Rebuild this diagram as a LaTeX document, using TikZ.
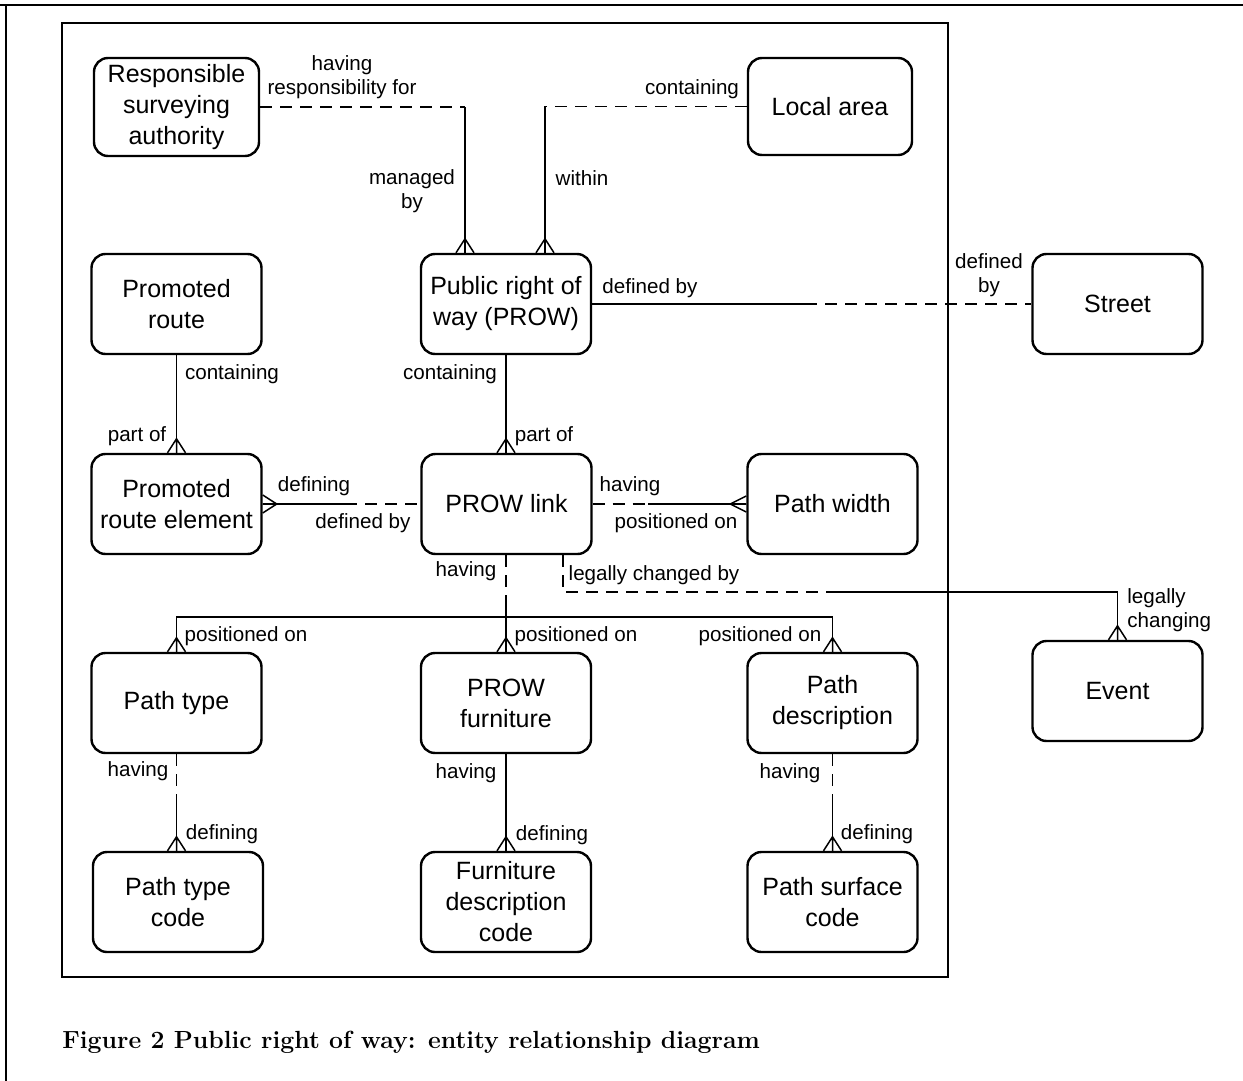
\documentclass[tikz,border=0pt]{standalone}
\usepackage{fontspec}
\newfontfamily\erfont{Liberation Sans}
\tikzset{
 ent/.style={draw, line width=1.2pt, rounded corners=7pt, minimum width=85pt, minimum height=50pt, inner sep=0pt, align=center, font=\erfont\fontsize{12.5}{15.5}\selectfont},
 lbl/.style={inner sep=0pt, align=center, font=\erfont\fontsize{10.3}{12}\selectfont},
 rel/.style={line width=0.75pt},
 opt/.style={rel, dash pattern=on 6pt off 4pt},
 crowN/.pic={\draw[rel] (-9,0) -- (0,-14) -- (9,0) (0,0) -- (0,-14);},
 crowW/.pic={\draw[rel] (0,-8) -- (-16,0) -- (0,8) (0,0) -- (-16,0);},
 crowE/.pic={\draw[rel] (0,-9) -- (14,0) -- (0,9) (0,0) -- (14,0);}
}
\begin{document}
\begin{tikzpicture}[x=0.5pt,y=-0.5pt]
\useasboundingbox (0,0) rectangle (1243,1081);
% frames
\draw[line width=0.7pt] (0,5) -- (1243,5);
\draw[line width=0.7pt] (6,5) -- (6,1081);
\draw[line width=1pt] (62,23) rectangle (948,977);

% entities
\node[ent, minimum width=82.5pt, minimum height=49pt] (rsa) at (176.5,107) {Responsible\\surveying\\authority};
\node[ent, minimum width=82pt, minimum height=48.5pt] (la) at (830,106.5) {Local area};
\node[ent] (pr) at (176.5,304) {Promoted\\route};
\node[ent] (prow) at (506,304) {Public right of\\way (PROW)};
\node[ent] (street) at (1117.5,304) {Street};
\node[ent] (pre) at (176.5,504) {Promoted\\route element};
\node[ent] (link) at (506.5,504) {PROW link};
\node[ent] (pw) at (832.5,504) {Path width};
\node[ent] (pt) at (176.5,703) {Path type};
\node[ent] (pf) at (506,703) {PROW\\furniture};
\node[ent] (pd) at (832.5,703) {Path\\description};
\node[ent] (ev) at (1117.5,691) {Event};
\node[ent] (ptc) at (178,902) {Path type\\code};
\node[ent] (fdc) at (506,902) {Furniture\\description\\code};
\node[ent] (psc) at (832.5,902) {Path surface\\code};

% bend coordinates
\coordinate (k1) at (465,0);
\coordinate (k2) at (545,0);
\coordinate (k3) at (805,304);
\coordinate (k4) at (345,504);
\coordinate (k5) at (648,504);
\coordinate (k6) at (506,602);
\coordinate (k7) at (0,617);
\coordinate (k8) at (563,592);
\coordinate (k9) at (836,592);
\coordinate (k10) at (0,800);

% RSA - PROW
\draw[opt] (rsa.east) -- (rsa.east -| k1);
\draw[rel] (rsa.east -| k1) -- (k1 |- prow.north);
\pic at (k1 |- prow.north) {crowN};
% Local area - PROW
\draw[opt] (la.west) -- (la.west -| k2);
\draw[rel] (la.west -| k2) -- (k2 |- prow.north);
\pic at (k2 |- prow.north) {crowN};
% PROW - Street
\draw[rel] (prow.east) -- (k3);
\draw[opt] (k3) -- (street.west);
% Promoted route - element
\draw[rel] (pr.south) -- (pre.north);
\pic at (pre.north) {crowN};
% PROW - link
\draw[rel] (prow.south) -- (prow.south |- link.north);
\pic at (prow.south |- link.north) {crowN};
% element - link
\draw[rel] (pre.east) -- (k4);
\draw[opt] (k4) -- (link.west);
\pic at (pre.east) {crowE};
% link - width
\draw[opt] (link.east) -- (k5);
\draw[rel] (k5) -- (pw.west);
\pic at (pw.west) {crowW};
% link - bus
\draw[opt] (k6 |- link.south) -- (k6);
\draw[rel] (k6) -- (pf.north);
\draw[rel] (pt.north) -- (pt.north |- k7) -- (pd.north |- k7) -- (pd.north);
\pic at (pt.north) {crowN};
\pic at (pf.north) {crowN};
\pic at (pd.north) {crowN};
% link - event
\draw[opt] (link.south -| k8) -- (k8) -- (k9);
\draw[rel] (k9) -- (k9 -| ev.north) -- (ev.north);
\pic at (ev.north) {crowN};
% lower codes
\draw[opt] (pt.south) -- (pt.south |- k10);
\draw[rel] (pt.south |- k10) -- (pt.south |- ptc.north);
\pic at (pt.south |- ptc.north) {crowN};
\draw[rel] (pf.south) -- (fdc.north);
\pic at (fdc.north) {crowN};
\draw[opt] (pd.south) -- (pd.south |- k10);
\draw[rel] (pd.south |- k10) -- (pd.south |- psc.north);
\pic at (pd.south |- psc.north) {crowN};

% labels
\node[lbl] (l1) at (342,77) {having\\responsibility for};
\node[lbl] (l2) at (412,191) {managed\\by};
\node[lbl] (l3) at (582,178) {within};
\node[lbl] (l4) at (692,89) {containing};
\node[lbl] (l5) at (650,288) {defined by};
\node[lbl] (l6) at (989,275) {defined\\by};
\node[lbl] (l7) at (232,374) {containing};
\node[lbl] (l8) at (137,436) {part of};
\node[lbl] (l9) at (450,374) {containing};
\node[lbl] (l10) at (544,436) {part of};
\node[lbl] (l11) at (314,486) {defining};
\node[lbl] (l12) at (363,523) {defined by};
\node[lbl] (l13) at (630,486) {having};
\node[lbl] (l14) at (676,523) {positioned on};
\node[lbl] (l15) at (466,571) {having};
\node[lbl] (l16) at (654,575) {legally changed by};
\node[lbl] (l17) at (246,636) {positioned on};
\node[lbl] (l18) at (576,636) {positioned on};
\node[lbl] (l19) at (760,636) {positioned on};
\node[lbl, anchor=west, align=left] (l20) at (1127,610) {legally\\changing};
\node[lbl] (l21) at (138,771) {having};
\node[lbl] (l22) at (222,834) {defining};
\node[lbl] (l23) at (466,773) {having};
\node[lbl] (l24) at (552,835) {defining};
\node[lbl] (l25) at (790,773) {having};
\node[lbl] (l26) at (877,834) {defining};

% caption
\node[anchor=west, inner sep=0pt, font=\bfseries\fontsize{12.4}{14}\selectfont] (cap) at (62,1042) {Figure 2 Public right of way: entity relationship diagram};
\end{tikzpicture}
\end{document}
